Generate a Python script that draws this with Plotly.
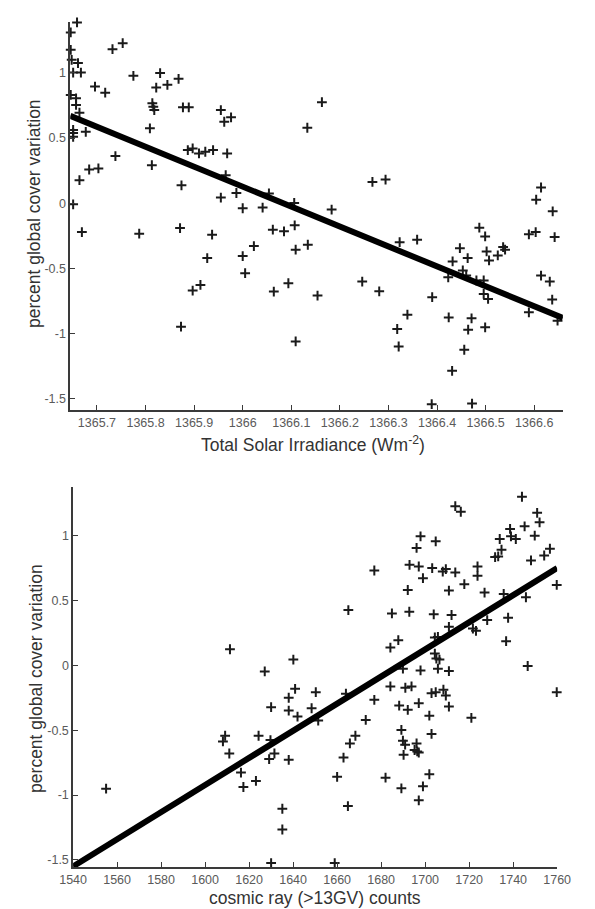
import plotly.graph_objects as go

# ---- Total Solar Irradiance vs cloud cover ----
tsi_x = [
    1365.659, 1365.646, 1365.646, 1365.648, 1365.661, 1365.651, 1365.667, 1365.732, 1365.753, 1365.775,
    1365.830, 1365.845, 1365.822, 1365.868, 1365.696, 1365.717, 1365.646, 1365.657, 1365.657, 1365.664,
    1365.814, 1365.816, 1365.818, 1365.877, 1365.889, 1365.955, 1365.976, 1365.962, 1365.809, 1365.651,
    1365.651, 1365.651, 1365.677, 1365.887, 1365.897, 1365.910, 1365.923, 1365.939, 1365.968, 1365.738,
    1365.684, 1365.703, 1365.813, 1365.664, 1365.874, 1365.965, 1365.955, 1365.987, 1365.651, 1366.000,
    1366.054, 1365.669, 1365.787, 1365.871, 1365.937, 1366.041, 1366.062, 1366.085, 1366.107, 1366.109,
    1366.023, 1365.927, 1366.000, 1366.005, 1365.897, 1365.913, 1366.094, 1366.064, 1365.873, 1366.109,
    1366.106, 1366.183, 1366.134, 1366.154, 1366.246, 1366.281, 1366.323, 1366.359, 1366.339, 1366.318,
    1366.321, 1366.390, 1366.424, 1366.431, 1366.447, 1366.432, 1366.463, 1366.453, 1366.460, 1366.423,
    1366.471, 1366.464, 1366.456, 1366.487, 1366.499, 1366.502, 1366.507, 1366.525, 1366.536, 1366.540,
    1366.481, 1366.496, 1366.496, 1366.505, 1366.499, 1366.589, 1366.603, 1366.638, 1366.642, 1366.614,
    1366.632, 1366.637, 1366.589, 1366.648, 1366.389, 1366.472, 1366.163, 1366.133, 1366.267, 1366.294,
    1366.614, 1366.604,
]
tsi_cover = [
    1.387, 1.310, 1.177, 1.100, 1.075, 1.002, 1.002, 1.182, 1.228, 0.977,
    0.998, 0.908, 0.887, 0.954, 0.895, 0.848, 0.831, 0.805, 0.754, 0.695,
    0.767, 0.741, 0.715, 0.736, 0.736, 0.715, 0.659, 0.625, 0.575, 0.562,
    0.538, 0.510, 0.548, 0.408, 0.421, 0.382, 0.395, 0.408, 0.382, 0.362,
    0.259, 0.267, 0.292, 0.177, 0.138, 0.215, 0.044, 0.079, -0.008, -0.038,
    0.075, -0.221, -0.233, -0.190, -0.241, -0.033, -0.202, -0.215, -0.169, -0.356,
    -0.328, -0.420, -0.405, -0.536, -0.669, -0.626, -0.613, -0.677, -0.946, -1.059,
    0.002, -0.048, -0.318, -0.708, -0.600, -0.675, -0.298, -0.279, -0.854, -0.964,
    -1.098, -0.720, -0.875, -1.285, -0.344, -0.446, -0.420, -0.515, -0.554, -0.567,
    -0.882, -0.969, -1.123, -0.187, -0.254, -0.369, -0.438, -0.400, -0.336, -0.356,
    -0.592, -0.592, -0.695, -0.733, -0.951, -0.238, -0.221, -0.062, -0.259, -0.554,
    -0.600, -0.738, -0.836, -0.900, -1.540, -1.536, 0.775, 0.579, 0.164, 0.182,
    0.121, 0.028,
]
tsi_fit_x = [1365.645, 1366.659]
tsi_fit_y = [0.67, -0.88]
tsi_ticks = [1365.7, 1365.8, 1365.9, 1366.0, 1366.1, 1366.2, 1366.3, 1366.4, 1366.5, 1366.6]
tsi_ticktext = ["1365.7", "1365.8", "1365.9", "1366", "1366.1", "1366.2", "1366.3", "1366.4", "1366.5", "1366.6"]

# ---- Cosmic ray counts vs cloud cover ----
cr_x = [
    1757.0, 1744.0, 1713.7, 1716.2, 1750.9, 1752.0, 1745.2, 1738.6, 1739.0, 1741.2,
    1733.9, 1749.8, 1697.9, 1704.8, 1696.1, 1734.7, 1731.8, 1733.2, 1756.7, 1754.1,
    1748.1, 1676.9, 1692.9, 1697.1, 1703.2, 1708.0, 1709.4, 1713.7, 1723.8, 1723.8,
    1699.0, 1717.8, 1759.8, 1692.1, 1710.8, 1727.0, 1735.7, 1745.8, 1665.1, 1684.9,
    1692.8, 1703.9, 1712.0, 1728.2, 1737.7, 1710.8, 1721.7, 1723.1, 1704.4, 1705.8,
    1687.8, 1684.2, 1736.8, 1704.4, 1705.1, 1706.5, 1746.6, 1640.1, 1689.9, 1697.9,
    1705.8, 1710.8, 1611.3, 1627.1, 1640.9, 1650.3, 1638.0, 1630.0, 1638.0, 1648.4,
    1642.0, 1651.4, 1664.0, 1676.9, 1673.0, 1609.1, 1608.1, 1624.3, 1629.7, 1611.0,
    1631.5, 1629.1, 1638.0, 1668.3, 1665.8, 1662.9, 1660.0, 1616.3, 1623.1, 1617.4,
    1555.0, 1635.1, 1635.1, 1630.0, 1664.9, 1684.2, 1691.0, 1693.8, 1702.9, 1704.8,
    1708.3, 1709.4, 1688.2, 1692.1, 1697.1, 1701.9, 1710.8, 1721.0, 1759.8, 1689.2,
    1702.9, 1689.9, 1690.9, 1696.1, 1695.2, 1696.4, 1697.1, 1690.2, 1682.0, 1701.9,
    1689.2, 1699.0, 1697.1, 1658.9,
]
cr_cover = [
    1.388, 1.300, 1.227, 1.184, 1.176, 1.103, 1.072, 1.052, 0.995, 0.974,
    0.974, 1.000, 0.995, 0.956, 0.905, 0.891, 0.835, 0.840, 0.899, 0.847,
    0.809, 0.731, 0.775, 0.762, 0.750, 0.723, 0.742, 0.716, 0.762, 0.690,
    0.672, 0.626, 0.620, 0.581, 0.576, 0.561, 0.550, 0.525, 0.426, 0.400,
    0.413, 0.393, 0.388, 0.349, 0.367, 0.297, 0.284, 0.266, 0.215, 0.219,
    0.194, 0.137, 0.186, 0.091, 0.052, 0.044, -0.005, 0.044, -0.026, -0.039,
    -0.026, -0.044, 0.124, -0.047, -0.181, -0.207, -0.250, -0.323, -0.349, -0.331,
    -0.395, -0.426, -0.219, -0.266, -0.421, -0.543, -0.587, -0.543, -0.576, -0.680,
    -0.680, -0.723, -0.729, -0.543, -0.602, -0.711, -0.860, -0.827, -0.891, -0.938,
    -0.951, -1.106, -1.266, -1.525, -1.085, -0.163, -0.173, -0.163, -0.215, -0.207,
    -0.188, -0.233, -0.310, -0.343, -0.292, -0.388, -0.318, -0.405, -0.207, -0.498,
    -0.529, -0.581, -0.612, -0.602, -0.653, -0.664, -0.672, -0.690, -0.866, -0.840,
    -0.948, -0.933, -1.041, -1.525,
]
cr_fit_x = [1540, 1760]
cr_fit_y = [-1.55, 0.75]
cr_ticks = [1540, 1560, 1580, 1600, 1620, 1640, 1660, 1680, 1700, 1720, 1740, 1760]

cover_ticks = [-1.5, -1, -0.5, 0, 0.5, 1]
cover_ticktext = ["-1.5", "-1", "-0.5", "0", "0.5", "1"]

FONT = "Liberation Sans, Arial, sans-serif"
AXIS_COL = "#3a3a3a"
LABEL_COL = "#5a5a5a"

marker = dict(symbol="cross-thin", size=7, color="#1a1a1a",
              line=dict(width=2, color="#1a1a1a"))

fig = go.Figure()

fig.add_trace(go.Scatter(x=tsi_x, y=tsi_cover, mode="markers", marker=marker,
                         xaxis="x", yaxis="y", cliponaxis=False, showlegend=False))
fig.add_trace(go.Scatter(x=tsi_fit_x, y=tsi_fit_y, mode="lines",
                         line=dict(color="#000000", width=6),
                         xaxis="x", yaxis="y", showlegend=False))

fig.add_trace(go.Scatter(x=cr_x, y=cr_cover, mode="markers", marker=marker,
                         xaxis="x2", yaxis="y2", cliponaxis=False, showlegend=False))
fig.add_trace(go.Scatter(x=cr_fit_x, y=cr_fit_y, mode="lines",
                         line=dict(color="#000000", width=6),
                         xaxis="x2", yaxis="y2", cliponaxis=False, showlegend=False))

W, H = 595, 909

def axis_common():
    return dict(showline=True, linecolor=AXIS_COL, linewidth=1.5, mirror=False,
                showgrid=False, zeroline=False, ticks="inside", ticklen=5,
                tickwidth=1.2, tickcolor=AXIS_COL,
                tickfont=dict(family=FONT, size=12.5, color=LABEL_COL))

fig.update_layout(
    width=W, height=H,
    margin=dict(l=0, r=0, t=0, b=0),
    paper_bgcolor="white", plot_bgcolor="white",
    xaxis=dict(domain=[59 / W, 576 / W], range=[1365.645, 1366.659],
               tickvals=tsi_ticks, ticktext=tsi_ticktext, anchor="y",
               **axis_common()),
    yaxis=dict(domain=[1 - 410 / H, 1 - 22 / H], range=[-1.585, 1.39],
               tickvals=cover_ticks, ticktext=cover_ticktext, anchor="x",
               **axis_common()),
    xaxis2=dict(domain=[62 / W, 570 / W], range=[1540, 1760],
                tickvals=cr_ticks, anchor="y2", **axis_common()),
    yaxis2=dict(domain=[1 - 867 / H, 1 - 487 / H], range=[-1.555, 1.375],
                tickvals=cover_ticks, ticktext=cover_ticktext, anchor="x2",
                **axis_common()),
)

title_font = dict(family=FONT, size=17.5, color="#333333")
annotations = [
    dict(text="percent global cover variation", x=21 / W, y=1 - 214 / H,
         textangle=-90),
    dict(text="Total Solar Irradiance (Wm<sup>-2</sup>)", x=314 / W, y=1 - 444 / H),
    dict(text="percent global cover variation", x=23 / W, y=1 - 678 / H,
         textangle=-90),
    dict(text="cosmic ray (>13GV) counts", x=316 / W, y=1 - 898 / H),
]
for a in annotations:
    fig.add_annotation(xref="paper", yref="paper", showarrow=False,
                       xanchor="center", yanchor="middle", font=title_font, **a)

fig.write_html("out.html")
